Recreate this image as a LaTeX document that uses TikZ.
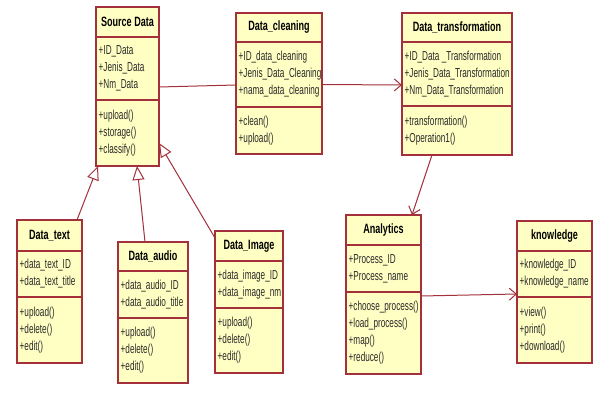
\documentclass[tikz,border=0pt]{standalone}
\usepackage{fontspec}
\newfontfamily\umlfont[FakeStretch=0.63]{Liberation Sans}
\newfontfamily\umltitlefont[FakeStretch=0.67]{Liberation Sans}
\usetikzlibrary{arrows.meta}
\definecolor{umlborder}{HTML}{A3303A}
\definecolor{umlfill}{HTML}{FFFFC4}
\definecolor{umltext}{HTML}{2A2A2A}
\tikzset{
  classbox/.style={draw=umlborder, fill=umlfill, line width=1.1pt, inner sep=0pt, outer sep=0pt},
  sepline/.style={draw=umlborder, line width=1.1pt},
  titletext/.style={font=\umltitlefont\fontsize{13.5}{15}\selectfont\bfseries, text=black, inner sep=0pt},
  membertext/.style={font=\umlfont\fontsize{13}{17}\selectfont, text=umltext, align=left, inner sep=0pt},
  assoc/.style={draw=umlborder, line width=1pt},
  navarrow/.style={assoc, -{Straight Barb[length=7pt,width=12pt,line width=1pt]}},
  genarrow/.style={assoc, -{Triangle[open,length=14pt,width=12pt,line width=1pt]}}
}
\newcommand\umlbox[7]{%
  \node[classbox, minimum width={#3-#2}, minimum height={#7-#4}, anchor=north west] (#1) at (#2,#4) {};
  \draw[sepline] (#2,#5) -- (#3,#5);
  \draw[sepline] (#2,#6) -- (#3,#6);
  \gdef\Xa{#2}\gdef\Xb{#3}\gdef\Ya{#4}\gdef\Yb{#5}\gdef\Yc{#6}\gdef\Yd{#7}}
\newcommand\umltext[4]{%
  \node[titletext] (#1-title) at ({(\Xa+\Xb)/2},{(\Ya+\Yb)/2}) {#2};
  \node[membertext, anchor=west] (#1-attr) at ({\Xa+2.5},{(\Yb+\Yc)/2}) {#3};
  \node[membertext, anchor=west] (#1-meth) at ({\Xa+2.5},{(\Yc+\Yd)/2}) {#4};}
\begin{document}
\begin{tikzpicture}[x=1pt,y=-1pt]
\useasboundingbox[fill=white] (0,0) rectangle (594,393);

\umlbox{src}{96}{159}{7}{37}{100}{166}
\umltext{src}{Source Data}{+ID\_Data\\+Jenis\_Data\\+Nm\_Data}{+upload()\\+storage()\\+classify()}

\umlbox{clean}{236}{322}{13}{42}{107}{154}
\umltext{clean}{Data\_cleaning}{+ID\_data\_cleaning\\+Jenis\_Data\_Cleaning\\+nama\_data\_cleaning}{+clean()\\+upload()}

\umlbox{trans}{402}{512}{13}{42}{106}{155}
\umltext{trans}{Data\_transformation}{+ID\_Data \_Transformation\\+Jenis\_Data\_Transformation\\+Nm\_Data\_Transformation}{+transformation()\\+Operation1()}

\umlbox{txt}{17}{82}{220}{251}{297}{363}
\umltext{txt}{Data\_text}{+data\_text\_ID\\+data\_text\_title}{+upload()\\+delete()\\+edit()}

\umlbox{aud}{118}{188}{242}{271}{318}{383}
\umltext{aud}{Data\_audio}{+data\_audio\_ID\\+data\_audio\_title}{+upload()\\+delete()\\+edit()}

\umlbox{img}{215}{283}{231}{261}{308}{373}
\umltext{img}{Data\_Image}{+data\_image\_ID\\+data\_image\_nm}{+upload()\\+delete()\\+edit()}

\umlbox{ana}{346}{421}{215}{245}{292}{374}
\umltext{ana}{Analytics}{+Process\_ID\\+Process\_name}{+choose\_process()\\+load\_process()\\+map()\\+reduce()}

\umlbox{know}{517}{592}{221}{251}{297}{363}
\umltext{know}{knowledge}{+knowledge\_ID\\+knowledge\_name}{+view()\\+print()\\+download()}

% associations
\draw[assoc] ([yshift=-0.5pt]src.east) -- ([yshift=-1.5pt]clean.west);
\draw[navarrow] ([yshift=-1pt]clean.east) -- ([yshift=-1pt]trans.west);
\draw[navarrow] ([xshift=-25pt]trans.south) -- ([xshift=28.5pt]ana.north);
\draw[navarrow] ([yshift=-1.5pt]ana.east) -- ([yshift=-2pt]know.west);

% generalizations
\draw[genarrow] ([xshift=-5pt]txt.north east) -- ([xshift=2pt]src.south west);
\draw[genarrow] ([xshift=-8pt]aud.north) -- ([xshift=9.5pt]src.south);
\draw[genarrow] ([yshift=-7pt]img.north west) -- ([yshift=23pt]src.south east);
\end{tikzpicture}
\end{document}
